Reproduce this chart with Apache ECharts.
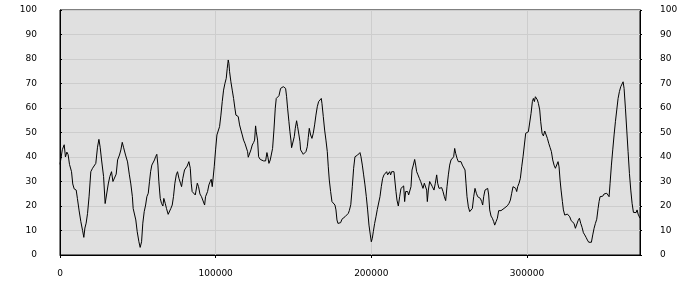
<!DOCTYPE html>
<html>
<head>
<meta charset="utf-8">
<style>html,body{margin:0;padding:0;background:#fff;}#chart{width:700px;height:300px;}</style>
<script src="https://cdn.jsdelivr.net/npm/echarts@6/dist/echarts.min.js"></script>
</head>
<body>
<div id="chart"></div>
<script>
var xValues = [0,1500,2700,3500,4400,5200,6100,7400,8200,9100,10400,11200,12300,13400,14500,15300,16000,16800,17700,18700,19800,20900,22000,23000,24100,25000,25800,26700,28000,29000,30100,31000,32000,33100,34000,34800,36100,37000,38200,39100,40000,40800,42100,43400,44500,45500,46500,47000,47900,48700,49600,50700,51500,52400,53200,54100,55000,55800,56700,57500,58200,59000,59900,60700,61400,62200,62900,63500,64400,65200,66100,66700,67600,68400,69500,70400,71200,72100,72900,73800,74700,75500,76400,77400,78100,78900,80000,80900,81700,82800,83700,84300,84900,86000,86900,87500,88200,89000,89900,90900,92000,92900,93500,94800,95650,96510,97150,97800,98230,99080,99940,100800,101650,102510,103370,104230,105080,105940,106800,107440,108080,108510,108940,109790,110650,111510,112360,113010,113650,114510,115360,116220,117080,117930,118790,119650,120510,120940,121790,122650,123510,124360,125010,125650,126080,126930,127580,128650,129720,130790,132080,132930,133570,134220,135070,135930,136570,137430,138290,138930,139790,140650,141720,142570,143430,144070,144930,145570,146210,147070,147710,148350,148780,149860,150500,151150,152000,152640,153500,154140,154570,155430,156290,157140,158000,158860,159500,160140,161000,161850,162710,163570,164420,165280,166140,167000,167850,168280,169140,170000,170850,171710,172350,173000,173850,174710,175570,176640,177280,177920,178560,179420,180280,181130,181990,183060,184140,185210,185850,186800,187780,188630,189490,190350,191200,192060,192700,193350,194210,195060,195920,196780,197630,198490,199350,199990,200630,201270,202130,202990,203840,204700,205560,206410,207270,208130,208990,209840,210480,211130,211770,212410,213050,213910,214550,215200,215840,216480,217340,218200,219050,219910,220770,221410,222050,222700,223340,223980,224840,225480,226130,226980,227840,228480,229130,229980,230840,231690,232550,233190,234050,234910,235550,235980,236630,237480,238340,239200,240270,241120,241980,242620,243480,244340,245190,246050,246910,247760,248620,249480,250330,251190,252050,252900,253550,254190,255040,255900,256760,257610,258470,259330,260190,260830,261470,262330,263190,264040,264900,265760,266610,267470,268330,269180,270040,270900,271540,272180,273040,273900,274750,275400,276040,276900,277760,278610,279250,280110,280970,281820,282470,283320,284180,285250,286320,287390,288460,289320,290180,291030,291890,292750,293390,294030,294890,295750,296610,297460,298320,299180,300030,300890,301750,302610,303460,304110,304750,305390,306030,306680,307320,308180,308820,309680,310540,311390,312250,313110,313960,314820,315680,316530,317390,318250,319100,319960,320600,321250,321890,322750,323390,324250,325110,325960,326820,327460,328400,329390,330240,331100,331960,332810,333670,334530,335380,336240,337100,337950,338810,339670,340530,341380,342240,343100,343950,344810,345670,346310,346950,347810,348660,349520,350380,351240,352090,352740,353380,354240,355090,355950,356810,357670,358520,359380,360240,361090,361740,362380,363240,364090,364950,365810,366670,367520,368380,369230,370090,370730,371370,372600];
var yValues = [37,43,45,40,42,41,37,34,29,27,26.5,23,18,13.6,10,7.2,11,13,17,24,34,35.4,36,37.4,44,47.2,44,38.8,32,21,21,29,32,34,30,30.6,33,38.8,40.8,42.9,46,44,40.8,38,33,29,23.8,19,18.4,14.3,9.5,5.4,3.1,5.4,13,17.7,20.4,23.8,25.2,30,34,36.7,37.1,38.8,40.1,41.1,36.7,30,23.1,21.1,20,23.1,21.1,19,16.6,17,19,20.4,23.8,29.3,32.7,34,31.3,29.3,27.9,31.3,34.7,35,36.3,38.1,35.4,29.3,25.9,25.2,24.5,25.2,29.3,27.9,24.9,23.8,23.1,20.4,23.8,25.9,28.6,30,30.9,27.9,30.6,36,42.9,49,48.3,52.4,57.1,62.6,67.3,70,72.1,76.2,79.6,78.2,74.8,70.7,67.3,63.9,59.9,57.1,57.8,56.5,53.1,51,49,46.9,45.6,44.9,42.2,39.9,39.9,42.9,44.9,45.9,46.9,52.7,50.3,46.9,40.1,39,38.4,38.4,38.4,41.8,39.9,37.4,38.8,39,43.5,51,59.9,63.9,63.5,65,68,68.4,68.7,69.4,68,64.6,59.9,54.4,50.3,46.9,43.8,43.8,48.3,51.7,54.8,52.4,49,46.3,42.9,42.2,41.1,41.5,42.2,44.2,48,51.7,49,47.6,49.7,53.1,57.1,60.5,62.6,63.3,63.9,61.9,56.5,51,46.9,42.2,36,30.6,25.9,21.8,21.1,20.4,18.4,14.3,12.9,12.2,13.2,14.6,15,15.6,16.3,17,18.1,20.5,27.9,35.4,40.1,40.8,40.8,41.5,41.8,40.1,36.7,32.7,28.6,23.8,18.4,12.2,8.2,5.4,6.8,9.5,12.9,15.6,18.6,19,23.8,27.9,31.3,32.7,33.3,34,32.7,33.3,34,32.7,34,33.3,34,34,25.9,22.4,20,23.8,27.2,27.9,28.2,21.8,25.9,25.2,25.9,24.5,23.8,27.9,34.7,36.7,39,36.7,34,32.7,31.3,30,29.3,27.2,29.3,29.5,26.5,21.8,26.5,30,29.3,27.9,26.5,29.3,32.7,29.3,27.2,27.2,27.5,25.9,23.8,22.2,27.9,32.7,36.7,38.8,39.5,40.1,43.5,41.5,39.5,38.1,37.4,38.1,36.7,36,34.7,29.3,23.8,19.7,17.7,17,19,23.8,27.2,25.2,23.8,23.4,23.1,21.8,20.4,23.8,26.5,27.2,27.2,24.5,18.4,15.9,15,13.6,12.2,13.6,15,18.1,17.4,18.1,18.6,19,19.7,20.1,21.1,22.4,25.2,27.9,27.9,27.2,25.9,27.9,29.3,31.3,36,40.1,44.9,49.7,50.3,50.3,51,57.8,62.6,63.9,62.6,64.6,65.3,63.3,61.9,59.2,54.4,49.7,48.6,50.6,49.9,47.6,45.6,43.9,42.2,38.8,36.7,35.4,36,38.1,36,30.6,26.5,21.8,18.4,16.3,16.3,16.7,16.7,15.6,14,14,12.9,10.9,10.9,14,15,12.9,11.3,9.1,8.2,7.2,6.1,5.2,5.2,5.2,8.2,10.9,12.9,14.6,19,21.8,23.8,24,24,24.9,25.2,25.2,24.9,23.8,29.3,36.7,42.9,49,54.4,59.2,63.9,66.7,68.7,69.4,70.7,68,59.9,51,42.2,33.3,26.5,21.1,17.4,17,17.3,18.4,16.7,15];
var xTickValues = [0, 100000, 200000, 300000];
var yMin = 0, yMax = 100, yStep = 10;
var xMax = 372600;

var seriesData = xValues.map(function (x, i) { return [x, yValues[i]]; });

var chart = echarts.init(document.getElementById('chart'), null, { renderer: 'canvas' });
var labelFont = { fontFamily: 'DejaVu Sans', fontSize: 9, color: '#000' };
function plain(v) { return String(v); }
chart.setOption({
  animation: false,
  backgroundColor: '#ffffff',
  grid: {
    left: 60, right: 60, top: 10, bottom: 45,
    show: true, backgroundColor: '#e0e0e0', borderColor: '#000', borderWidth: 1
  },
  xAxis: {
    type: 'value', min: 0, max: xMax, interval: 100000,
    axisLine: { show: true, onZero: false, lineStyle: { color: '#000', width: 1 } },
    axisTick: { show: true, length: 3, inside: false, customValues: xTickValues, lineStyle: { color: '#000' } },
    axisLabel: Object.assign({ margin: 14, customValues: xTickValues, formatter: plain }, labelFont),
    splitLine: { show: true, lineStyle: { color: '#cdcdcd', width: 1 } }
  },
  yAxis: [{
    type: 'value', min: yMin, max: yMax, interval: yStep, position: 'left',
    axisLine: { show: true, lineStyle: { color: '#000', width: 1 } },
    axisTick: { show: true, length: 2, inside: true, lineStyle: { color: '#000' } },
    axisLabel: Object.assign({ margin: 23, formatter: plain }, labelFont),
    splitLine: { show: true, lineStyle: { color: '#cdcdcd', width: 1 } }
  }, {
    type: 'value', min: yMin, max: yMax, interval: yStep, position: 'right',
    axisLine: { show: true, lineStyle: { color: '#000', width: 1 } },
    axisTick: { show: true, length: 2, inside: false, lineStyle: { color: '#000' } },
    axisLabel: Object.assign({ margin: 20, formatter: plain }, labelFont),
    splitLine: { show: false }
  }],
  series: [{
    type: 'line',
    yAxisIndex: 0,
    data: seriesData,
    showSymbol: false,
    symbol: 'none',
    lineStyle: { color: '#000', width: 1 },
    silent: true
  }]
});
</script>
</body>
</html>
